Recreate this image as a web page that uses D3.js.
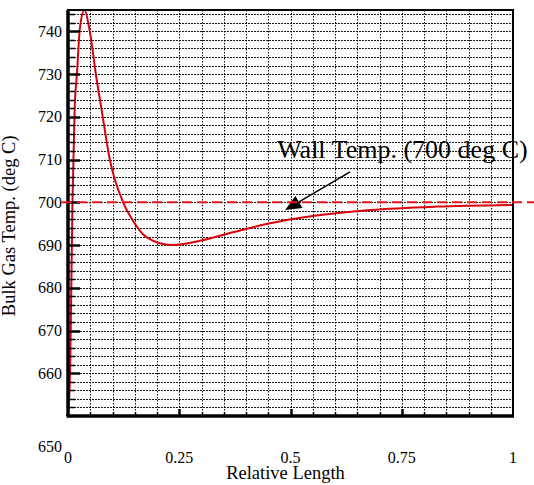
<!DOCTYPE html>
<html>
<head>
<meta charset="utf-8">
<script src="https://cdn.jsdelivr.net/npm/d3@7"></script>
<style>
  body { margin: 0; background: #fff; }
  text { font-family: "Liberation Serif", "Times New Roman", serif; fill: #000; }
</style>
</head>
<body>
<div id="wrapper"></div>
<script>
// data
const relLength = [0, 0.005, 0.01, 0.015, 0.02, 0.027, 0.037, 0.049, 0.064, 0.075, 0.094, 0.124, 0.146, 0.177, 0.233, 0.297, 0.371, 0.454, 0.55, 0.679, 0.829, 1]
const bulkTemp  = [650, 662, 700, 722, 730, 741, 745, 740, 729, 722, 710, 700, 695.7, 691.8, 690, 691, 693, 695.1, 696.8, 698.2, 699, 699.4]
const xTickValues = [0, 0.25, 0.5, 0.75, 1]
const xTickLabels = ["0", "0.25", "0.5", "0.75", "1"]
const yTickValues = [650, 660, 670, 680, 690, 700, 710, 720, 730, 740]
const wallTemp = 700
const wallLabel = "Wall Temp. (700 deg C)"
// annotation anchor points (data units)
const arrowTail = [0.634, 707.1]
const arrowTip = [0.488, 698.2]
const labelAt = [0.47, 710.4]

const width = 534
let dimensions = {
  width: width,
  height: 485,
  margin: { top: 10, bottom: 69, left: 68, right: 21 }
}
dimensions.boundedWidth = dimensions.width - dimensions.margin.left - dimensions.margin.right
dimensions.boundedHeight = dimensions.height - dimensions.margin.top - dimensions.margin.bottom

const svg = d3.select("#wrapper")
  .append("svg")
    .attr("width", dimensions.width)
    .attr("height", dimensions.height)

const bounds = svg.append("g")
    .attr("transform", `translate(${dimensions.margin.left},${dimensions.margin.top})`)

const xScale = d3.scaleLinear()
    .domain([0, 1])
    .range([0, dimensions.boundedWidth])
const yScale = d3.scaleLinear()
    .domain([650, 745])
    .range([dimensions.boundedHeight, 0])

// grid
const hGrid = d3.range(652, 745, 2)
const vGrid = d3.range(1, 20).map(i => i * 0.05)
bounds.append("g").selectAll("line")
  .data(hGrid).join("line")
    .attr("x1", 0).attr("x2", dimensions.boundedWidth)
    .attr("y1", d => Math.round(yScale(d)) + 0.5).attr("y2", d => Math.round(yScale(d)) + 0.5)
    .attr("stroke", "#000").attr("stroke-width", 1)
    .attr("stroke-dasharray", "2,1").attr("opacity", 0.9)
bounds.append("g").selectAll("line")
  .data(vGrid).join("line")
    .attr("x1", d => Math.round(xScale(d)) + 0.5).attr("x2", d => Math.round(xScale(d)) + 0.5)
    .attr("y1", 0).attr("y2", dimensions.boundedHeight)
    .attr("stroke", "#000").attr("stroke-width", 1)
    .attr("stroke-dasharray", "1.5,1.5").attr("opacity", 0.95)

// wall temperature dashed line
svg.append("line")
    .attr("x1", dimensions.margin.left - 6)
    .attr("x2", dimensions.width)
    .attr("y1", dimensions.margin.top + yScale(wallTemp))
    .attr("y2", dimensions.margin.top + yScale(wallTemp))
    .attr("stroke", "#e8141b").attr("stroke-width", 2)
    .attr("stroke-dasharray", "10,5")

// curve
bounds.append("clipPath").attr("id", "clip")
  .append("rect").attr("width", dimensions.boundedWidth).attr("height", dimensions.boundedHeight)
const line = d3.line()
    .x(d => xScale(d[0]))
    .y(d => yScale(d[1]))
    .curve(d3.curveMonotoneX)
bounds.append("path")
    .datum(relLength.map((x, i) => [x, bulkTemp[i]]))
    .attr("d", line)
    .attr("clip-path", "url(#clip)")
    .attr("fill", "none")
    .attr("stroke", "#d9000d")
    .attr("stroke-width", 2)

// frame
bounds.append("rect")
    .attr("width", dimensions.boundedWidth).attr("height", dimensions.boundedHeight)
    .attr("fill", "none").attr("stroke", "#000").attr("stroke-width", 2)
bounds.append("line")
    .attr("x1", 0).attr("x2", 0).attr("y1", 0).attr("y2", dimensions.boundedHeight)
    .attr("stroke", "#000").attr("stroke-width", 3.5)
bounds.append("line")
    .attr("x1", -1.5).attr("x2", dimensions.boundedWidth + 1).attr("y1", dimensions.boundedHeight).attr("y2", dimensions.boundedHeight)
    .attr("stroke", "#000").attr("stroke-width", 3.5)

// y ticks (inward)
const yMinor = d3.range(652, 745, 2).filter(d => d % 10 !== 0)
bounds.append("g").selectAll("line")
  .data(yMinor).join("line")
    .attr("x1", 0).attr("x2", 7)
    .attr("y1", d => Math.round(yScale(d)) + 0.5).attr("y2", d => Math.round(yScale(d)) + 0.5)
    .attr("stroke", "#000").attr("stroke-width", 1.5)
bounds.append("g").selectAll("line")
  .data(yTickValues.filter(d => d > 650)).join("line")
    .attr("x1", 0).attr("x2", 12)
    .attr("y1", d => Math.round(yScale(d)) + 0.5).attr("y2", d => Math.round(yScale(d)) + 0.5)
    .attr("stroke", "#000").attr("stroke-width", 2.5)

// x ticks (inward)
const xMinor = vGrid.filter((d, i) => (i + 1) % 5 !== 0)
bounds.append("g").selectAll("line")
  .data(xMinor).join("line")
    .attr("x1", d => Math.round(xScale(d)) + 0.5).attr("x2", d => Math.round(xScale(d)) + 0.5)
    .attr("y1", dimensions.boundedHeight).attr("y2", dimensions.boundedHeight - 4)
    .attr("stroke", "#000").attr("stroke-width", 1.5)
bounds.append("g").selectAll("line")
  .data(xTickValues.slice(1, -1)).join("line")
    .attr("x1", d => Math.round(xScale(d)) + 0.5).attr("x2", d => Math.round(xScale(d)) + 0.5)
    .attr("y1", dimensions.boundedHeight).attr("y2", dimensions.boundedHeight - 7)
    .attr("stroke", "#000").attr("stroke-width", 2.5)

// y tick labels; the 650 label sits low, next to the x labels
bounds.append("g").selectAll("text")
  .data(yTickValues).join("text")
    .attr("x", -6)
    .attr("y", d => d === 650 ? yScale(d) + 36 : yScale(d) + 5.5)
    .attr("text-anchor", "end")
    .style("font-size", "16px")
    .text(d => d)

// x tick labels
bounds.append("g").selectAll("text")
  .data(xTickValues).join("text")
    .attr("x", d => xScale(d))
    .attr("y", dimensions.boundedHeight + 47)
    .attr("text-anchor", "middle")
    .style("font-size", "16px")
    .text((d, i) => xTickLabels[i])

// axis titles
bounds.append("text")
    .attr("x", dimensions.boundedWidth / 2 - 5)
    .attr("y", dimensions.boundedHeight + 63)
    .attr("text-anchor", "middle")
    .style("font-size", "18.5px")
    .text("Relative Length")
bounds.append("text")
    .attr("transform", `translate(${-53},${yScale(694.5)}) rotate(-90)`)
    .attr("text-anchor", "middle")
    .style("font-size", "18.5px")
    .text("Bulk Gas Temp. (deg C)")

// annotation
const tx = xScale(arrowTail[0]), ty = yScale(arrowTail[1])
const hx = xScale(arrowTip[0]), hy = yScale(arrowTip[1])
const ang = Math.atan2(hy - ty, hx - tx)
const headLen = 16, headHalf = 7
const bx = hx - headLen * Math.cos(ang), by = hy - headLen * Math.sin(ang)
bounds.append("line")
    .attr("x1", tx).attr("y1", ty).attr("x2", bx).attr("y2", by)
    .attr("stroke", "#000").attr("stroke-width", 1.5)
bounds.append("polygon")
    .attr("points", [
      [hx, hy],
      [bx - headHalf * Math.sin(ang), by + headHalf * Math.cos(ang)],
      [bx + headHalf * Math.sin(ang), by - headHalf * Math.cos(ang)]
    ].map(p => p.join(",")).join(" "))
    .attr("fill", "#000")
bounds.append("text")
    .attr("x", xScale(labelAt[0]))
    .attr("y", yScale(labelAt[1]))
    .style("font-size", "26px")
    .text(wallLabel)
</script>
</body>
</html>
